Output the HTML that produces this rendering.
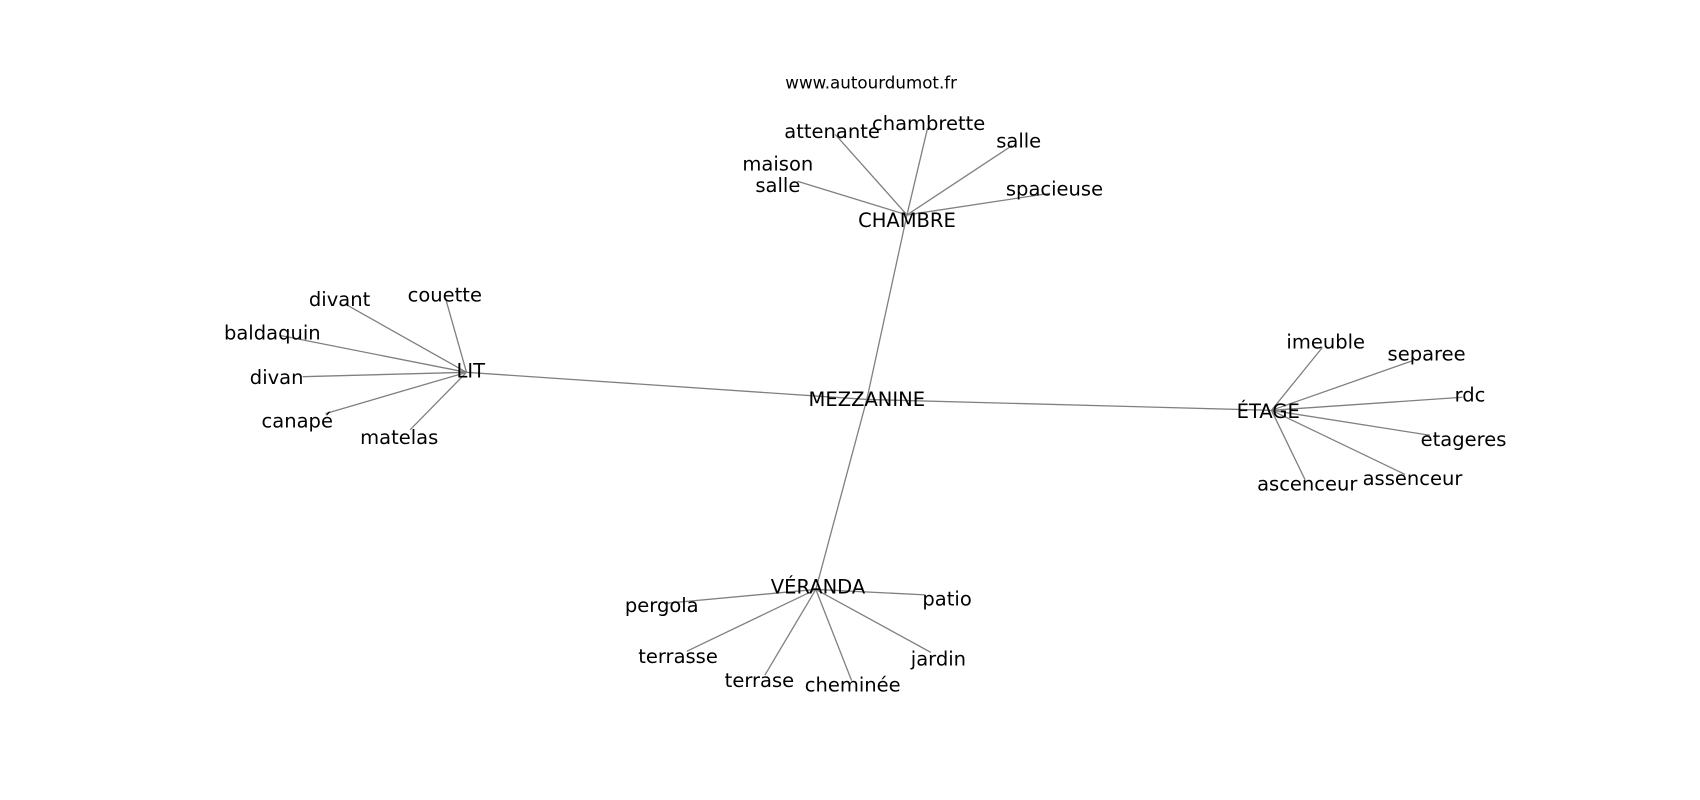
<!DOCTYPE html>
<html><head><meta charset="utf-8"><style>html,body{margin:0;padding:0;background:#fff;}svg{display:block}</style></head>
<body>
<svg width="1700" height="800" viewBox="0 0 1567 737" preserveAspectRatio="none" xmlns="http://www.w3.org/2000/svg">
<g stroke="#808080" stroke-width="1.2" fill="none">
<line x1="799" y1="368" x2="836" y2="198"/>
<line x1="799" y1="368" x2="430" y2="343"/>
<line x1="799" y1="368" x2="1172" y2="378"/>
<line x1="799" y1="368" x2="752" y2="543"/>
<line x1="836" y1="198" x2="770" y2="124"/>
<line x1="836" y1="198" x2="855" y2="118"/>
<line x1="836" y1="198" x2="933" y2="134"/>
<line x1="836" y1="198" x2="968" y2="178"/>
<line x1="836" y1="198" x2="735" y2="167"/>
<line x1="430" y1="343" x2="318" y2="280"/>
<line x1="430" y1="343" x2="411" y2="276"/>
<line x1="430" y1="343" x2="258" y2="309"/>
<line x1="430" y1="343" x2="279" y2="347"/>
<line x1="430" y1="343" x2="300" y2="381"/>
<line x1="430" y1="343" x2="378" y2="396"/>
<line x1="1172" y1="378" x2="1219" y2="320"/>
<line x1="1172" y1="378" x2="1303" y2="332"/>
<line x1="1172" y1="378" x2="1348" y2="366"/>
<line x1="1172" y1="378" x2="1318" y2="401"/>
<line x1="1172" y1="378" x2="1295" y2="437"/>
<line x1="1172" y1="378" x2="1203" y2="442"/>
<line x1="752" y1="543" x2="612" y2="556"/>
<line x1="752" y1="543" x2="853" y2="548"/>
<line x1="752" y1="543" x2="633" y2="600"/>
<line x1="752" y1="543" x2="705" y2="622"/>
<line x1="752" y1="543" x2="785" y2="627"/>
<line x1="752" y1="543" x2="858" y2="601"/>
</g>
<g font-family="DejaVu Sans, Liberation Sans, sans-serif" font-size="18" fill="#000" text-anchor="middle" dominant-baseline="central">
<text x="803" y="76" font-size="15.4">www.autourdumot.fr</text>
<text x="799" y="368">MEZZANINE</text>
<text x="836" y="203">CHAMBRE</text>
<text x="434" y="342">LIT</text>
<text x="1169" y="379">ÉTAGE</text>
<text x="754" y="541">VÉRANDA</text>
<text x="767" y="121">attenante</text>
<text x="856" y="114">chambrette</text>
<text x="939" y="130">salle</text>
<text x="972" y="174">spacieuse</text>
<text x="717" y="151">maison</text>
<text x="717" y="171">salle</text>
<text x="313" y="276">divant</text>
<text x="410" y="272">couette</text>
<text x="251" y="307">baldaquin</text>
<text x="255" y="348">divan</text>
<text x="274" y="388">canapé</text>
<text x="368" y="403">matelas</text>
<text x="1222" y="315">imeuble</text>
<text x="1315" y="326">separee</text>
<text x="1355" y="364">rdc</text>
<text x="1349" y="405">etageres</text>
<text x="1302" y="441">assenceur</text>
<text x="1205" y="446">ascenceur</text>
<text x="610" y="558">pergola</text>
<text x="873" y="552">patio</text>
<text x="625" y="605">terrasse</text>
<text x="700" y="627">terrase</text>
<text x="786" y="631">cheminée</text>
<text x="865" y="607">jardin</text>
</g>
</svg>
</body></html>
